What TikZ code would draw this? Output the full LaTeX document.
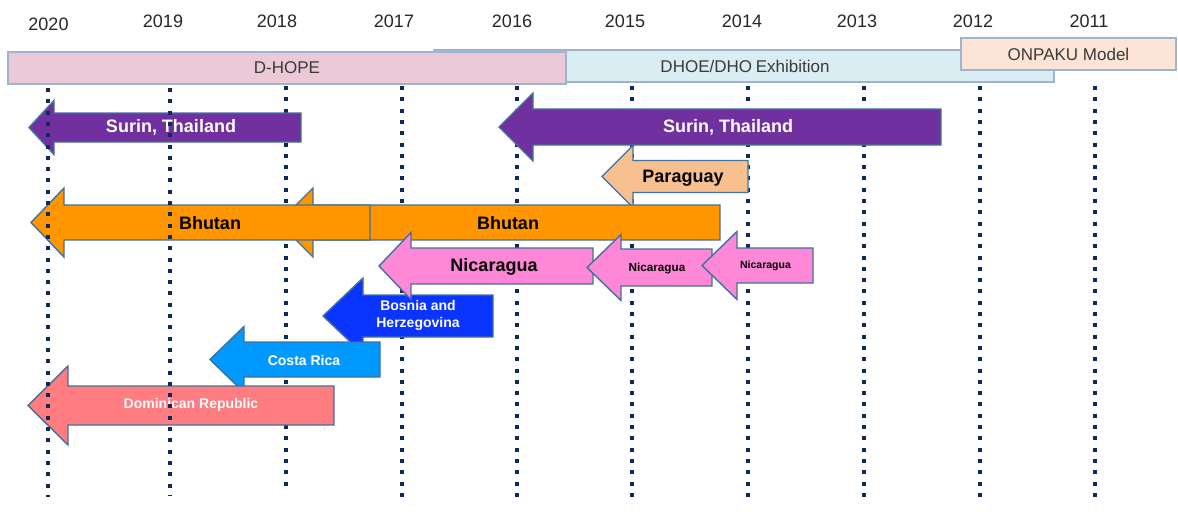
\documentclass[tikz,border=0pt]{standalone}
\usepackage{fontspec}
\setmainfont{Liberation Sans}
\definecolor{yeargray}{HTML}{262626}
\definecolor{bartext}{HTML}{3A3A3A}
\definecolor{baredge}{HTML}{9FB4CE}
\definecolor{arrowedge}{HTML}{41719C}
\definecolor{gridnavy}{HTML}{0D2A5C}
\definecolor{dhopefill}{HTML}{EBC9D7}
\definecolor{dhoefill}{HTML}{DAEDF3}
\definecolor{onpakufill}{HTML}{FCE5D7}
\definecolor{surinpurple}{HTML}{7030A0}
\definecolor{paraguayfill}{HTML}{F8C08E}
\definecolor{bhutanorange}{HTML}{FF9600}
\definecolor{nicpink}{HTML}{FF87D8}
\definecolor{bosniablue}{HTML}{0A34FF}
\definecolor{costablue}{HTML}{0099FF}
\definecolor{domred}{HTML}{FF7C80}
% left-pointing block arrow:
% #1 fill, #2 tip x, #3 head base x, #4 tail x, #5 centre y, #6 half shaft, #7 half head
\newcommand{\tlarrow}[7]{%
  \filldraw[shape edge, fill=#1] (#2,#5) -- (#3,#5-#7) -- (#3,#5-#6) -- (#4,#5-#6)
    -- (#4,#5+#6) -- (#3,#5+#6) -- (#3,#5+#7) -- cycle;}
\begin{document}
\begin{tikzpicture}[x=1pt,y=-1pt,
  yearlbl/.style={text=yeargray, font=\fontsize{18}{20}\selectfont, inner sep=0pt},
  bar/.style={draw=baredge, line width=1.4pt, inner sep=0pt, text=bartext,
    font=\fontsize{17}{20}\selectfont},
  gridline/.style={draw=gridnavy, line width=4pt, dash pattern=on 4pt off 7.3pt},
  shape edge/.style={draw=arrowedge, line width=1.4pt, line join=miter},
  darklbl/.style={text=black, font=\bfseries\fontsize{18}{20}\selectfont, inner sep=0pt},
  lightlbl/.style={text=white, font=\bfseries\fontsize{18}{20}\selectfont, inner sep=0pt},
]
\useasboundingbox (0,0) rectangle (1178,514);

% year labels
\node[yearlbl] (y2020) at (48.5,24) {2020};
\node[yearlbl] (y2019) at (163,21.5) {2019};
\node[yearlbl] (y2018) at (277,21) {2018};
\node[yearlbl] (y2017) at (394,21) {2017};
\node[yearlbl] (y2016) at (512,21) {2016};
\node[yearlbl] (y2015) at (625,21) {2015};
\node[yearlbl] (y2014) at (742,21) {2014};
\node[yearlbl] (y2013) at (857,21) {2013};
\node[yearlbl] (y2012) at (973,21) {2012};
\node[yearlbl] (y2011) at (1089,21) {2011};

% dotted year lines lying under the arrows
\foreach \x/\yb in {286/491, 402/498, 517/497, 632/502, 748/497, 864/497, 980/497, 1095/497}
  \draw[gridline] (\x,86) -- (\x,\yb);

% programme bars
\node[bar, fill=dhoefill, minimum width=620pt, minimum height=32pt] (dhoe) at (744,66) {};
\node[bartext, font=\fontsize{17}{20}\selectfont, inner sep=0pt] (dhoetxt) at (745,66) {DHOE/DHO\kern-1pt\ Exhibition};
\node[bar, fill=dhopefill, minimum width=558pt, minimum height=32pt] (dhope) at (287,68) {D-HOPE};
\node[bar, fill=onpakufill, minimum width=215pt, minimum height=32pt] (onpaku) at (1068.5,54) {ONPAKU Model};

% Paraguay
\tlarrow{paraguayfill}{602}{633}{748}{176.5}{16}{31}
\node[darklbl] (paraguay) at (683,178) {Paraguay};

% Surin, Thailand
\tlarrow{surinpurple}{499}{533}{941}{127}{18}{34}
\node[lightlbl] (surinR) at (728,127) {Surin, Thailand};
\tlarrow{surinpurple}{29}{54}{301}{127.5}{14.5}{27}
\node[lightlbl] (surinL) at (171,127.5) {Surin, Thailand};

% Bhutan
\tlarrow{bhutanorange}{278.5}{313}{720}{222.5}{17.5}{34.5}
\node[darklbl] (bhutanR) at (508,223) {Bhutan};
\tlarrow{bhutanorange}{31}{64}{370}{222.5}{17.5}{34.5}
\node[darklbl] (bhutanL) at (210,223) {Bhutan};

% Bosnia and Herzegovina
\tlarrow{bosniablue}{323}{363}{493}{316}{21}{38}
\node[lightlbl, font=\bfseries\fontsize{14}{17}\selectfont, align=center] (bosnia) at (418,315.5) {Bosnia and\\Herzegovina};

% Nicaragua
\tlarrow{nicpink}{379}{411}{593}{266}{18}{33.5}
\node[darklbl] (nicA) at (494,267) {Nicaragua};
\tlarrow{nicpink}{587}{621}{712}{267.5}{18.5}{33}
\node[darklbl, font=\bfseries\fontsize{11.7}{14}\selectfont] (nicB) at (657,268) {Nicaragua};
\tlarrow{nicpink}{702}{737}{813}{265.5}{17.5}{34}
\node[darklbl, font=\bfseries\fontsize{10.5}{13}\selectfont] (nicC) at (765.5,265.5) {Nicaragua};

% Costa Rica
\tlarrow{costablue}{210}{244}{380}{359.5}{17.5}{33}
\node[lightlbl, font=\bfseries\fontsize{14}{17}\selectfont] (costa) at (304,360) {Costa Rica};

% Dominican Republic
\tlarrow{domred}{28}{68}{334}{405.5}{19.5}{39.5}
\node[lightlbl, font=\bfseries\fontsize{14}{17}\selectfont] (domrep) at (191,405) {Dominican Republic};

% dotted year lines lying over the arrows
\foreach \x/\yb in {48/497, 170/495}
  \draw[gridline] (\x,88) -- (\x,\yb);
\end{tikzpicture}
\end{document}
